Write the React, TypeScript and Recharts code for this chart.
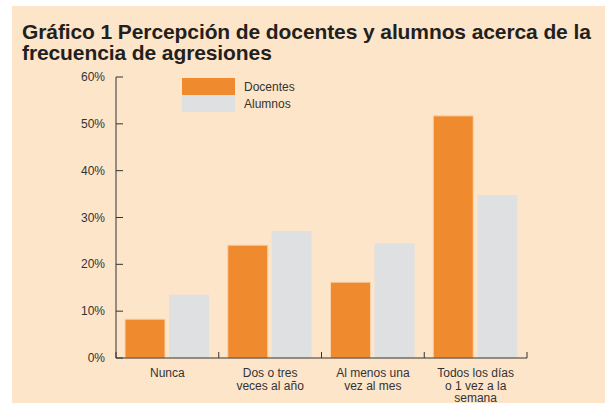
import { BarChart, Bar, XAxis, YAxis } from 'recharts';

const CATEGORIES = ['Nunca', 'Dos o tres veces al año', 'Al menos una vez al mes', 'Todos los días o 1 vez a la semana'];
const CATEGORY_LINES = [['Nunca'], ['Dos o tres', 'veces al año'], ['Al menos una', 'vez al mes'], ['Todos los días', 'o 1 vez a la', 'semana']];
const DOCENTES = [8.3, 24.1, 16.2, 51.7];
const ALUMNOS = [13.5, 27.1, 24.5, 34.8];
const Y_TICKS = [0, 10, 20, 30, 40, 50, 60];
const SERIES = [
  { key: 'docentes', label: 'Docentes', color: '#F08A2E' },
  { key: 'alumnos', label: 'Alumnos', color: '#DFE0E2' },
];

const BG = '#FDE5CA';
const INK = '#333333';
const FONT = 'Liberation Sans, Arial, sans-serif';

const W = 593;
const H = 397;
const M = { top: 71, right: 78, left: 0, bottom: 0 };
const Y_W = 104;
const X_H = 45;
const PLOT_W = W - M.left - M.right - Y_W;
const BAND = PLOT_W / CATEGORIES.length;

const data = CATEGORIES.map((c, i) => ({ cat: c, docentes: DOCENTES[i], alumnos: ALUMNOS[i] }));

function YTick(props: any) {
  const { x, y, payload } = props;
  return (
    <g>
      <line x1={x + 11} x2={x + 18} y1={y} y2={y} stroke={INK} strokeWidth={1} />
      <text x={x} y={y} dy={4} textAnchor="end" fontSize={12} fill={INK} fontFamily={FONT}>
        {payload.value}%
      </text>
    </g>
  );
}

function XTick(props: any) {
  const { x, y, index } = props;
  const lines = CATEGORY_LINES[index] || [];
  const axisY = y - 8;
  return (
    <g>
      {index === 0 && <line x1={x - BAND / 2} x2={x - BAND / 2} y1={axisY} y2={axisY - 6} stroke={INK} />}
      <line x1={x + BAND / 2} x2={x + BAND / 2} y1={axisY} y2={axisY - 6} stroke={INK} />
      <text x={x} y={y} textAnchor="middle" fontSize={12} fill={INK} fontFamily={FONT}>
        {lines.map((l, i) => (
          <tspan key={i} x={x} dy={i === 0 ? 11 : 12.5}>
            {l}
          </tspan>
        ))}
      </text>
    </g>
  );
}

export default function App() {
  return (
    <div style={{ position: 'absolute', left: 12, top: 6, width: W, height: H, background: BG }}>
      <div
        style={{
          position: 'absolute',
          left: 10,
          top: 15,
          fontFamily: FONT,
          fontWeight: 'bold',
          fontSize: 21,
          lineHeight: '21px',
          color: '#231F20',
          letterSpacing: -0.1,
          whiteSpace: 'nowrap',
        }}
      >
        Gráfico 1 Percepción de docentes y alumnos acerca de la
        <br />
        frecuencia de agresiones
      </div>
      <div style={{ position: 'absolute', left: 170, top: 72, fontFamily: FONT, fontSize: 12, color: INK }}>
        {SERIES.map((s) => (
          <div key={s.key} style={{ display: 'flex', alignItems: 'center', height: 17 }}>
            <span style={{ display: 'inline-block', width: 53, height: 17, background: s.color }} />
            <span style={{ marginLeft: 9 }}>{s.label}</span>
          </div>
        ))}
      </div>
      <BarChart width={W} height={H} data={data} margin={M} barCategoryGap={9} barGap={4}>
        <YAxis
          width={Y_W}
          domain={[0, 60]}
          ticks={Y_TICKS}
          tick={<YTick />}
          tickLine={false}
          tickSize={0}
          tickMargin={11}
          axisLine={{ stroke: INK }}
        />
        <XAxis
          dataKey="cat"
          height={X_H}
          tick={<XTick />}
          tickLine={false}
          tickSize={0}
          tickMargin={8}
          interval={0}
          axisLine={{ stroke: INK }}
        />
        <Bar dataKey="docentes" name="Docentes" fill={SERIES[0].color} stroke="#FAD3AA" strokeWidth={1} isAnimationActive={false} />
        <Bar dataKey="alumnos" name="Alumnos" fill={SERIES[1].color} isAnimationActive={false} />
      </BarChart>
    </div>
  );
}
